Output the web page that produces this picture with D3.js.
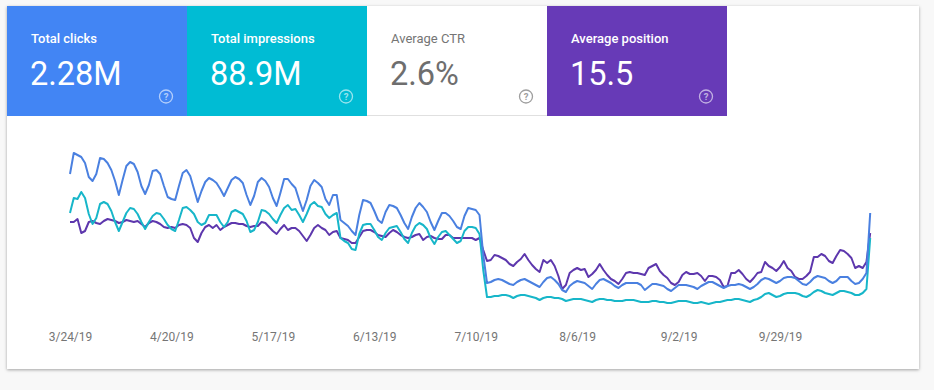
<!DOCTYPE html>
<html>
<head>
<meta charset="utf-8">
<script src="https://cdn.jsdelivr.net/npm/d3@7"></script>
<style>
  body { margin: 0; background: #f8f8f8; font-family: Roboto, "Noto Sans", Arial, sans-serif; }
  #card { position: absolute; left: 7px; top: 6px; width: 912px; height: 363px; background: #fff;
          box-shadow: 0 1px 3px rgba(0,0,0,0.35); }
  svg { position: absolute; left: 0; top: 0; }
</style>
</head>
<body>
<div id="card"></div>
<div id="vis"></div>
<script>
const tileLabels = ["Total clicks", "Total impressions", "Average CTR", "Average position"];
const tileValues = ["2.28M", "88.9M", "2.6%", "15.5"];

const firstDay = "3/24/19";
const tickLabels = ["3/24/19", "4/20/19", "5/17/19", "6/13/19", "7/10/19", "8/6/19", "9/2/19", "9/29/19"];

// daily clicks
const clicks = [15600,17700,17500,17300,16700,15300,14900,
15600,17200,17100,16700,16000,14900,13500,
15000,16400,16800,16600,15800,14400,13600,
14500,15900,16000,15600,14400,13300,13100,
13000,14400,15700,16000,15400,14100,12800,
13900,14800,15200,15000,14700,14100,13400,
14200,15000,15300,15100,14700,13500,12500,
13400,14800,15200,14900,14300,13200,12400,
13700,15100,15100,14600,14200,13000,11900,
13000,14400,15000,14700,14300,13100,12500,
13500,13500,11000,10700,10400,9900,9500,
11500,13000,12900,12700,11900,11000,10700,
11800,12500,12400,12200,11500,10700,10100,
11300,12200,12700,12300,11800,10800,10000,
10900,11700,11700,11400,10900,10300,10100,
11400,12200,12100,12000,11500,7500,4700,
4800,5000,5100,5000,4800,4600,4500,
4800,5000,5100,4900,4700,4500,4300,
4800,5200,5300,5000,4600,4000,3800,
4400,4700,4900,4800,4700,4400,4100,
4600,5000,5100,4900,4700,4400,4200,
4500,4700,4700,4700,4700,4500,4000,
4300,4600,4600,4500,4400,4100,3900,
4200,4500,4500,4500,4400,4300,4100,
4400,4600,4800,4800,4600,4400,4200,
4400,4500,4500,4600,4500,4300,4100,
4300,4600,5000,5200,5100,4900,4700,
4900,5200,5300,5300,5200,4900,4600,
4500,4800,5200,5400,5300,5200,4900,
4700,4900,5300,5300,5300,4900,4600,
4700,5100,5700,11700];

// daily impressions
const impressions = [468000,528000,524000,552000,528000,464000,424000,
448000,504000,512000,504000,476000,432000,396000,
432000,468000,488000,484000,464000,432000,404000,
432000,456000,468000,464000,444000,420000,404000,
396000,440000,488000,492000,480000,464000,432000,
420000,428000,460000,460000,460000,432000,412000,
432000,472000,480000,472000,464000,436000,392000,
400000,432000,480000,476000,464000,444000,428000,
460000,488000,500000,480000,484000,460000,432000,
464000,500000,512000,496000,492000,464000,448000,
460000,468000,368000,356000,348000,324000,320000,
384000,420000,424000,424000,400000,372000,360000,
388000,408000,412000,416000,392000,364000,348000,
388000,416000,428000,420000,404000,368000,344000,
372000,392000,396000,380000,364000,348000,356000,
396000,412000,412000,408000,384000,240000,132000,
132000,136000,136000,140000,140000,136000,128000,
136000,140000,140000,136000,132000,128000,120000,
128000,132000,132000,128000,128000,124000,116000,
120000,124000,124000,124000,120000,116000,112000,
120000,124000,124000,120000,120000,116000,116000,
116000,120000,120000,120000,116000,112000,112000,
112000,116000,116000,112000,112000,108000,108000,
112000,116000,116000,116000,112000,108000,108000,
112000,108000,104000,108000,112000,112000,116000,
120000,120000,124000,124000,120000,116000,112000,
120000,124000,132000,144000,148000,140000,132000,
136000,144000,148000,148000,148000,144000,136000,
132000,140000,152000,160000,156000,148000,144000,
140000,148000,156000,156000,152000,148000,140000,
140000,148000,164000,368000];

// daily average position
const position = [14.4,14.4,13.8,16.6,16.2,14.4,14.2,
14.6,14.8,14.2,13.8,14.0,14.2,14.6,
14.4,14.0,14.2,14.4,14.2,14.8,15.4,
14.6,14.2,14.4,14.8,15.4,15.6,15.4,
15.6,15.0,14.8,15.0,15.6,17.6,18.4,
16.6,15.4,15.0,15.6,15.0,16.0,15.4,
15.0,14.6,14.6,14.8,14.8,15.2,15.4,
15.2,15.2,14.4,14.6,15.4,16.2,16.8,
15.8,15.0,16.0,15.6,15.6,16.2,17.2,
18.2,17.0,15.6,15.0,15.6,16.0,17.0,
16.4,16.2,17.6,17.8,18.0,18.6,18.6,
17.4,16.2,16.0,16.0,16.4,17.0,17.2,
17.4,16.6,16.0,16.4,17.0,17.4,17.6,
17.4,17.0,16.8,18.0,17.4,17.2,17.6,
17.8,17.8,17.0,17.0,17.6,17.6,17.6,
17.6,17.6,17.6,18.0,17.6,20.0,22.2,
22.0,21.0,21.2,21.6,22.0,22.8,23.2,
22.4,21.8,20.8,22.0,23.0,23.8,24.4,
22.0,22.6,22.0,23.2,25.2,27.8,27.0,
24.6,24.0,23.6,24.0,23.8,25.4,24.8,
24.0,22.8,24.0,25.0,25.8,26.2,26.8,
25.8,24.6,24.4,24.6,24.6,24.8,25.0,
23.6,23.2,22.8,24.2,25.0,25.6,26.6,
27.0,26.4,25.0,24.4,24.8,24.8,24.6,
25.2,26.2,25.2,25.2,25.4,26.0,27.4,
27.2,24.6,24.6,24.0,24.8,25.8,26.4,
25.6,24.6,24.4,22.4,23.2,23.6,24.2,
23.4,22.2,23.6,24.2,25.4,25.8,25.8,
25.2,24.4,21.4,21.4,20.8,21.2,22.2,
22.6,21.2,20.0,20.2,20.8,21.6,23.6,
23.2,23.6,22.4,16.6];

const tileColors = ["#4285f4", "#00bcd4", "#ffffff", "#673ab7"];
const tileText = ["#ffffff", "#ffffff", "#757575", "#ffffff"];
const tileIcon = ["rgba(255,255,255,0.6)", "rgba(255,255,255,0.6)", "#9e9e9e", "rgba(255,255,255,0.6)"];

const parseDate = d3.timeParse("%m/%d/%y");
const start = parseDate(firstDay);
const days = clicks.map((d, i) => d3.timeDay.offset(start, i));

const width = 934, height = 390;
const svg = d3.select("#vis").append("svg").attr("width", width).attr("height", height);

// metric tiles
const tileW = 180, tileH = 110, tileX0 = 7, tileY0 = 6;
const tiles = svg.selectAll("g.tile").data(tileLabels).enter()
  .append("g").attr("class", "tile")
  .attr("transform", (d, i) => `translate(${tileX0 + i * tileW},${tileY0})`);

tiles.append("rect").attr("width", tileW).attr("height", tileH)
  .attr("fill", (d, i) => tileColors[i]);

tiles.filter((d, i) => i == 2).append("line")
  .attr("x1", 0).attr("x2", tileW).attr("y1", tileH - 0.5).attr("y2", tileH - 0.5)
  .attr("stroke", "#e0e0e0");

tiles.append("text").attr("x", 24).attr("y", 36.5)
  .attr("fill", (d, i) => tileText[i])
  .attr("font-size", 13).attr("font-weight", (d, i) => i == 2 ? 400 : 500)
  .text(d => d);

tiles.append("text").attr("x", 23).attr("y", 79)
  .attr("fill", (d, i) => i == 2 ? "#6e6e6e" : "#fff")
  .attr("font-size", 32.5)
  .text((d, i) => tileValues[i]);

tiles.append("circle").attr("cx", 159).attr("cy", 90.5).attr("r", 6.5)
  .attr("fill", "none").attr("stroke", (d, i) => tileIcon[i]).attr("stroke-width", 1.3);
tiles.append("text").attr("x", 159).attr("y", 94).attr("text-anchor", "middle")
  .attr("font-size", 9.5).attr("font-weight", 700)
  .attr("fill", (d, i) => tileIcon[i]).text("?");

// chart
const x = d3.scaleTime().domain([days[0], days[days.length - 1]]).range([70, 870.2]);
const yClicks = d3.scaleLinear().domain([0, 20000]).range([330, 130]);
const yImpr = d3.scaleLinear().domain([0, 800000]).range([330, 130]);
const yPos = d3.scaleLinear().domain([0, 40]).range([150, 350]);

const series = [
  { values: position, y: yPos, color: "#5d37ad" },
  { values: impressions, y: yImpr, color: "#17b6c9" },
  { values: clicks, y: yClicks, color: "#4a80e0" }
];

series.forEach(s => {
  const line = d3.line()
    .x((d, i) => x(days[i]))
    .y(d => s.y(d));
  svg.append("path").datum(s.values)
    .attr("d", line)
    .attr("fill", "none")
    .attr("stroke", s.color)
    .attr("stroke-width", 2)
    .attr("stroke-linejoin", "round");
});

const xAxis = d3.axisBottom(x)
  .tickValues(tickLabels.map(parseDate))
  .tickFormat((d, i) => tickLabels[i])
  .tickSize(0).tickPadding(0);

const ax = svg.append("g").attr("transform", "translate(0,332.5)").call(xAxis);
ax.select(".domain").remove();
ax.selectAll("text").attr("fill", "#757575").attr("font-size", 12)
  .attr("font-family", "Roboto, 'Noto Sans', sans-serif");
</script>
</body>
</html>
